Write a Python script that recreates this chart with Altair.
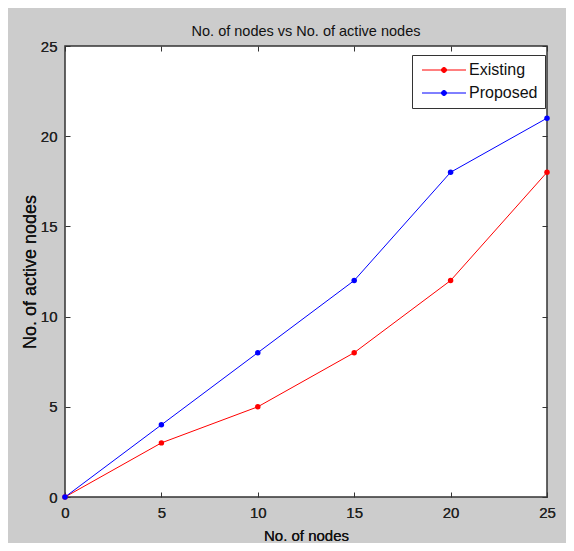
import altair as alt
import pandas as pd

nodes = [0, 5, 10, 15, 20, 25]
existing = [0, 3, 5, 8, 12, 18]
proposed = [0, 4, 8, 12, 18, 21]
series_names = ["Existing", "Proposed"]
series_colors = ["#ff0000", "#0000ff"]
x_ticks = [0, 5, 10, 15, 20, 25]
y_ticks = [0, 5, 10, 15, 20, 25]

rows = []
for n, e, p in zip(nodes, existing, proposed):
    rows.append({"nodes": n, "active": e, "series": "Existing"})
    rows.append({"nodes": n, "active": p, "series": "Proposed"})
df = pd.DataFrame(rows)

W, H = 482, 451
plain = "Liberation Sans, Arial"
axis_col = "#333333"

# legend symbol: line 44px long with a dot in the middle (unit = 5px)
legend_symbol = ("M-1,0L7.8,0M2.9,0A0.5,0.5,0,1,1,3.9,0"
                 "A0.5,0.5,0,1,1,2.9,0Z")

xscale = alt.Scale(domain=[0, 25], nice=False)
yscale = alt.Scale(domain=[0, 25], nice=False)
color = alt.Color(
    "series:N",
    scale=alt.Scale(domain=series_names, range=series_colors),
    legend=alt.Legend(
        title=None,
        orient="none",
        legendX=347,
        legendY=9,
        fillColor="white",
        strokeColor="#333333",
        padding=7,
        labelFont=plain,
        labelFontSize=16,
        labelColor="#111111",
        symbolType=legend_symbol,
        symbolSize=100,
        symbolStrokeWidth=1,
        rowPadding=7,
        labelOffset=34,
        offset=0,
    ),
)

base = alt.Chart(df)

main_x = alt.Axis(orient="bottom", values=x_ticks, tickSize=0, labelPadding=8,
                  labelFlush=False, domain=False, grid=False, title="No. of nodes",
                  labelFont=plain, labelFontSize=15, labelColor="#222222",
                  titleFont=plain, titleFontSize=15, titleFontWeight="normal",
                  titleColor="#111111", titlePadding=8)
main_y = alt.Axis(orient="left", values=y_ticks, tickSize=0, labelPadding=8,
                  labelFlush=False, domain=False, grid=False, title="No. of active nodes",
                  labelFont=plain, labelFontSize=15, labelColor="#222222",
                  titleFont=plain, titleFontSize=18, titleFontWeight="normal",
                  titleColor="#111111", titlePadding=1)

lines = base.mark_line(strokeWidth=1).encode(
    x=alt.X("nodes:Q", scale=xscale, axis=main_x),
    y=alt.Y("active:Q", scale=yscale, axis=main_y),
    color=color,
)
points = base.mark_point(filled=True, size=30, opacity=1, shape="circle").encode(
    x=alt.X("nodes:Q", scale=xscale, axis=main_x),
    y=alt.Y("active:Q", scale=yscale, axis=main_y),
    color=color,
)

def tick_axis(orient, offset):
    return alt.Axis(orient=orient, offset=offset, values=x_ticks, labels=False,
                    domain=False, grid=False, title=None, tickSize=5,
                    tickColor=axis_col, tickWidth=1)

ticks_a = base.mark_point(opacity=0).encode(
    x=alt.X("nodes:Q", scale=xscale, axis=tick_axis("top", -H)),
    y=alt.Y("active:Q", scale=yscale, axis=tick_axis("right", -W)),
)
ticks_b = base.mark_point(opacity=0).encode(
    x=alt.X("nodes:Q", scale=xscale, axis=tick_axis("bottom", -H)),
    y=alt.Y("active:Q", scale=yscale, axis=tick_axis("left", -W)),
)

chart = alt.layer(lines, points, ticks_a, ticks_b).resolve_axis(
    x="independent", y="independent"
).properties(
    width=W,
    height=H,
    background="#cccccc",
    padding={"left": 57, "top": 38, "right": 19, "bottom": 46},
    autosize=alt.AutoSizeParams(type="none"),
    title=alt.Title("No. of nodes vs No. of active nodes", font=plain,
                    fontSize=14.5, fontWeight="normal", color="#111111",
                    offset=0, anchor="middle"),
).configure_view(
    fill="white", stroke=axis_col, strokeWidth=1.5
)

chart.save("out.html", embed_options={"renderer": "svg", "actions": False})
